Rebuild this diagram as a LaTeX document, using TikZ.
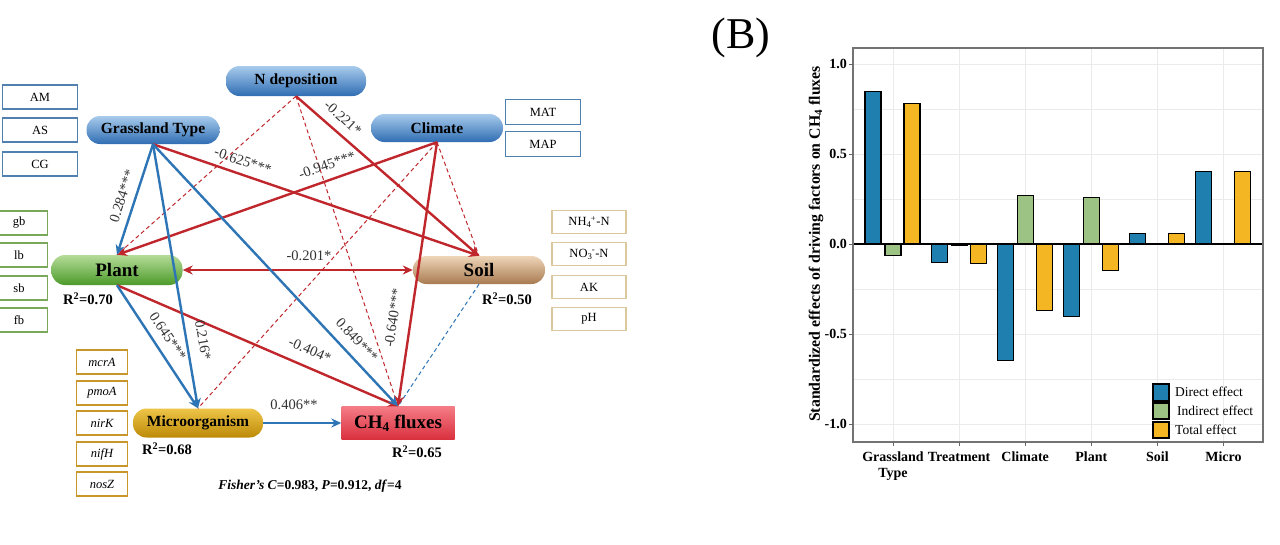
\documentclass[tikz,border=0pt]{standalone}
\usepackage{fontspec}
\setmainfont{Liberation Serif}
\usetikzlibrary{arrows.meta,calc}
\definecolor{ared}{HTML}{C0272D}
\definecolor{ablue}{HTML}{2E75B6}
\definecolor{pbl1}{HTML}{A8CBEC}
\definecolor{pbl2}{HTML}{2F6DB3}
\definecolor{pgr1}{HTML}{B5DC98}
\definecolor{pgr2}{HTML}{4C9A2A}
\definecolor{pso1}{HTML}{EED5B8}
\definecolor{pso2}{HTML}{A87A50}
\definecolor{pmi1}{HTML}{EEC548}
\definecolor{pmi2}{HTML}{BD8A08}
\definecolor{pch1}{HTML}{F47C86}
\definecolor{pch2}{HTML}{D9303D}
\definecolor{bblue}{HTML}{4F80B0}
\definecolor{bgreen}{HTML}{7AA85A}
\definecolor{bgold}{HTML}{C9962A}
\definecolor{btan}{HTML}{DCC89E}
\definecolor{barblue}{HTML}{1F7FAE}
\definecolor{bargreen}{HTML}{9DC384}
\definecolor{baryel}{HTML}{F4B623}
\definecolor{gridc}{HTML}{EBEBEB}
\tikzset{
  pill/.style={rectangle, rounded corners=13.5pt, draw=none, inner sep=0pt, text=black,
    font=\fontsize{15.5}{18}\selectfont\bfseries},
  varbox/.style={rectangle, draw, line width=1.2pt, fill=white, inner sep=0pt,
    minimum height=24pt, font=\fontsize{12.5}{14}\selectfont},
  rsol/.style={draw=ared, line width=2.4pt, -{Stealth[length=10pt,width=9pt]}},
  bsol/.style={draw=ablue, line width=2.4pt, -{Stealth[length=10pt,width=9pt]}},
  rdash/.style={draw=ared, line width=1pt, dash pattern=on 4pt off 3pt},
  bdash/.style={draw=ablue, line width=1pt, dash pattern=on 4pt off 3pt},
  elab/.style={font=\fontsize{14.5}{16}\selectfont, text=black!80, inner sep=1pt},
  rlab/.style={font=\fontsize{14.5}{16}\selectfont\bfseries, inner sep=0pt},
  tlab/.style={font=\fontsize{14}{16}\selectfont\bfseries, inner sep=0pt},
}
\begin{document}
\begin{tikzpicture}[x=1pt,y=-1pt]
\useasboundingbox[fill=white] (0,0) rectangle (1280,544);

% ---------- left-hand path diagram ----------
\node[pill, top color=pbl1, bottom color=pbl2, minimum width=140pt, minimum height=30pt] (ndep) at (296,81) {N deposition};
\node[pill, top color=pbl1, bottom color=pbl2, minimum width=133pt, minimum height=28pt] (gt) at (153,130) {Grassland Type};
\node[pill, top color=pbl1, bottom color=pbl2, minimum width=132pt, minimum height=28pt] (clim) at (437,128) {Climate};
\node[pill, top color=pgr1, bottom color=pgr2, minimum width=131pt, minimum height=30pt, font=\fontsize{19}{21}\selectfont\bfseries] (plant) at (117,270) {Plant};
\node[pill, top color=pso1, bottom color=pso2, minimum width=132pt, minimum height=28pt, font=\fontsize{19}{21}\selectfont\bfseries] (soil) at (479,270) {Soil};
\node[pill, top color=pmi1, bottom color=pmi2, minimum width=130pt, minimum height=29pt] (micro) at (198,423) {Microorganism};
\node[rectangle, draw=none, top color=pch1, bottom color=pch2, minimum width=113pt, minimum height=33pt, inner sep=0pt, font=\fontsize{19}{21}\selectfont\bfseries] (ch4) at (398,423) {CH\textsubscript{4} fluxes};

% variable boxes
\node[varbox, draw=bblue, minimum width=75pt] (am) at (40,97) {AM};
\node[varbox, draw=bblue, minimum width=75pt] (as) at (40,130) {AS};
\node[varbox, draw=bblue, minimum width=75pt] (cg) at (40,164) {CG};
\node[varbox, draw=bblue, minimum width=75pt, minimum height=25pt] (mat) at (543,112) {MAT};
\node[varbox, draw=bblue, minimum width=75pt, minimum height=25pt] (map) at (543,144) {MAP};
\node[varbox, draw=bgreen, minimum width=57pt] (gb) at (19,223) {gb};
\node[varbox, draw=bgreen, minimum width=57pt] (lb) at (19,255) {lb};
\node[varbox, draw=bgreen, minimum width=57pt] (sb) at (19,288) {sb};
\node[varbox, draw=bgreen, minimum width=57pt] (fb) at (19,320) {fb};
\node[varbox, draw=bgold, minimum width=51pt, font=\fontsize{12.5}{14}\selectfont\itshape] (mcra) at (102,362) {mcrA};
\node[varbox, draw=bgold, minimum width=51pt, font=\fontsize{12.5}{14}\selectfont\itshape] (pmoa) at (102,393) {pmoA};
\node[varbox, draw=bgold, minimum width=51pt, font=\fontsize{12.5}{14}\selectfont\itshape] (nirk) at (102,423) {nirK};
\node[varbox, draw=bgold, minimum width=51pt, font=\fontsize{12.5}{14}\selectfont\itshape] (nifh) at (102,454) {nifH};
\node[varbox, draw=bgold, minimum width=51pt, font=\fontsize{12.5}{14}\selectfont\itshape] (nosz) at (102,484) {nosZ};
\node[varbox, draw=btan, minimum width=74pt, minimum height=23pt] (nh4) at (589,222) {NH\textsubscript{4}\kern-0.5pt\textsuperscript{+}-N};
\node[varbox, draw=btan, minimum width=74pt, minimum height=23pt] (no3) at (589,254) {NO\textsubscript{3}\kern-0.5pt\textsuperscript{-}-N};
\node[varbox, draw=btan, minimum width=74pt, minimum height=23pt] (ak) at (589,287) {AK};
\node[varbox, draw=btan, minimum width=74pt, minimum height=23pt] (ph) at (589,319) {pH};

% connectors
\draw[rdash] (ndep.south) -- (plant.north);
\draw[rdash] (ndep.south) -- (ch4.north);
\draw[rdash] (clim.south) -- (soil.north);
\draw[rdash] (clim.south) -- (micro.north);
\draw[bdash] (soil.south) -- (ch4.north);
\draw[rsol] (gt.south) -- (soil.north);
\draw[rsol] (ndep.south) -- (soil.north);
\draw[rsol] (clim.south) -- (plant.north);
\draw[rsol] (clim.south) -- (ch4.north);
\draw[rsol] (plant.south) -- (ch4.north);
\draw[draw=ared, line width=2.4pt, {Stealth[length=10pt,width=9pt]}-{Stealth[length=10pt,width=9pt]}] (plant.east) -- (soil.west);
\draw[bsol] (gt.south) -- (plant.north);
\draw[bsol] (gt.south) -- (micro.north);
\draw[bsol] (gt.south) -- (ch4.north);
\draw[bsol] (plant.south) -- (micro.north);
\draw[bsol] (micro.east) -- (ch4.west);

% path coefficients
\node[elab, rotate=72] (l1) at (122,196) {0.284***};
\node[elab, rotate=-80] (l2) at (203,340) {0.216*};
\node[elab, rotate=-56] (l3) at (168,336) {0.645***};
\node[elab, rotate=-47] (l4) at (357,340) {0.849***};
\node[elab, rotate=-23.5] (l5) at (310,350) {-0.404*};
\node[elab, rotate=82] (l6) at (393,318) {-0.640***};
\node[elab, rotate=-18.7] (l7) at (243,161) {-0.625***};
\node[elab, rotate=19] (l8) at (327,165) {-0.945***};
\node[elab, rotate=-42] (l9) at (343,118) {-0.221*};
\node[elab] (l10) at (309,256) {-0.201*};
\node[elab] (l11) at (294,405) {0.406**};

% R2 and fit
\node[rlab] (r1) at (88,299) {R\textsuperscript{2}=0.70};
\node[rlab] (r2) at (507,299) {R\textsuperscript{2}=0.50};
\node[rlab] (r3) at (167,449) {R\textsuperscript{2}=0.68};
\node[rlab] (r4) at (417,452) {R\textsuperscript{2}=0.65};
\node[font=\fontsize{13.5}{15}\selectfont\bfseries, inner sep=0pt] (fit) at (310,486) {\textit{Fisher's C}=0.983, \textit{P}=0.912, \textit{df}=4};

% ---------- right-hand bar chart ----------
\node[font=\fontsize{44}{48}\selectfont, inner sep=0pt] (B) at (741,38) {(B)};

\foreach \v in {-1,-0.75,-0.5,-0.25,0.25,0.5,0.75,1}
  \draw[gridc, line width=1pt] (853,{244-180*\v}) -- (1263,{244-180*\v});
\foreach \i in {0,...,5}
  \draw[gridc, line width=1pt] ({893+66.1*\i},48) -- ({893+66.1*\i},442);

\foreach \i/\d/\n/\t in {0/0.845/-0.065/0.78, 1/-0.105/-0.008/-0.11, 2/-0.645/0.27/-0.37, 3/-0.405/0.26/-0.145, 4/0.06/0/0.06, 5/0.405/0/0.405}{
  \pgfmathsetmacro{\xc}{893+66.1*\i}
  \draw[fill=barblue, line width=1.1pt] ({\xc-28},244) rectangle ({\xc-12},{244-180*\d});
  \draw[fill=baryel, line width=1.1pt] ({\xc+11},244) rectangle ({\xc+27},{244-180*\t});
}
\foreach \i/\n in {0/-0.065, 1/-0.008, 2/0.27, 3/0.26}{
  \pgfmathsetmacro{\xc}{893+66.1*\i}
  \draw[fill=bargreen, line width=1.1pt] ({\xc-8},244) rectangle ({\xc+8},{244-180*\n});
}
\draw[black, line width=1.6pt] (853,244) -- (1263,244);
\draw[black!55, line width=1.3pt] (853,48) rectangle (1263,442);

\foreach \v/\lab in {1/1.0, 0.5/0.5, 0/0.0, -0.5/-0.5, -1/-1.0}{
  \draw[black!60, line width=0.8pt] (849,{244-180*\v}) -- (853,{244-180*\v});
  \node[tlab, anchor=east] at (847,{244-180*\v}) {\lab};
}
\foreach \i/\lab in {0/{Grassland\\Type}, 1/Treatment, 2/Climate, 3/Plant, 4/Soil, 5/Micro}{
  \draw[black!60, line width=0.8pt] ({893+66.1*\i},442) -- ({893+66.1*\i},446);
  \node[tlab, anchor=north, align=center] at ({893+66.1*\i},452) {\lab};
}
\node[font=\fontsize{15.8}{17}\selectfont\bfseries, rotate=90, inner sep=0pt] (ylab) at (816,244) {Standardized effects of driving factors on CH\textsubscript{4} fluxes};

% legend
\draw[fill=barblue, line width=1.1pt] (1153,384) rectangle (1169,401);
\draw[fill=bargreen, line width=1.1pt] (1153,403) rectangle (1169,419);
\draw[fill=baryel, line width=1.1pt] (1153,422) rectangle (1169,438);
\node[font=\fontsize{13.5}{15}\selectfont, anchor=west, inner sep=0pt] (lg1) at (1175,392) {Direct effect};
\node[font=\fontsize{13.5}{15}\selectfont, anchor=west, inner sep=0pt] (lg2) at (1177,411) {Indirect effect};
\node[font=\fontsize{13.5}{15}\selectfont, anchor=west, inner sep=0pt] (lg3) at (1175,430) {Total effect};
\end{tikzpicture}
\end{document}
